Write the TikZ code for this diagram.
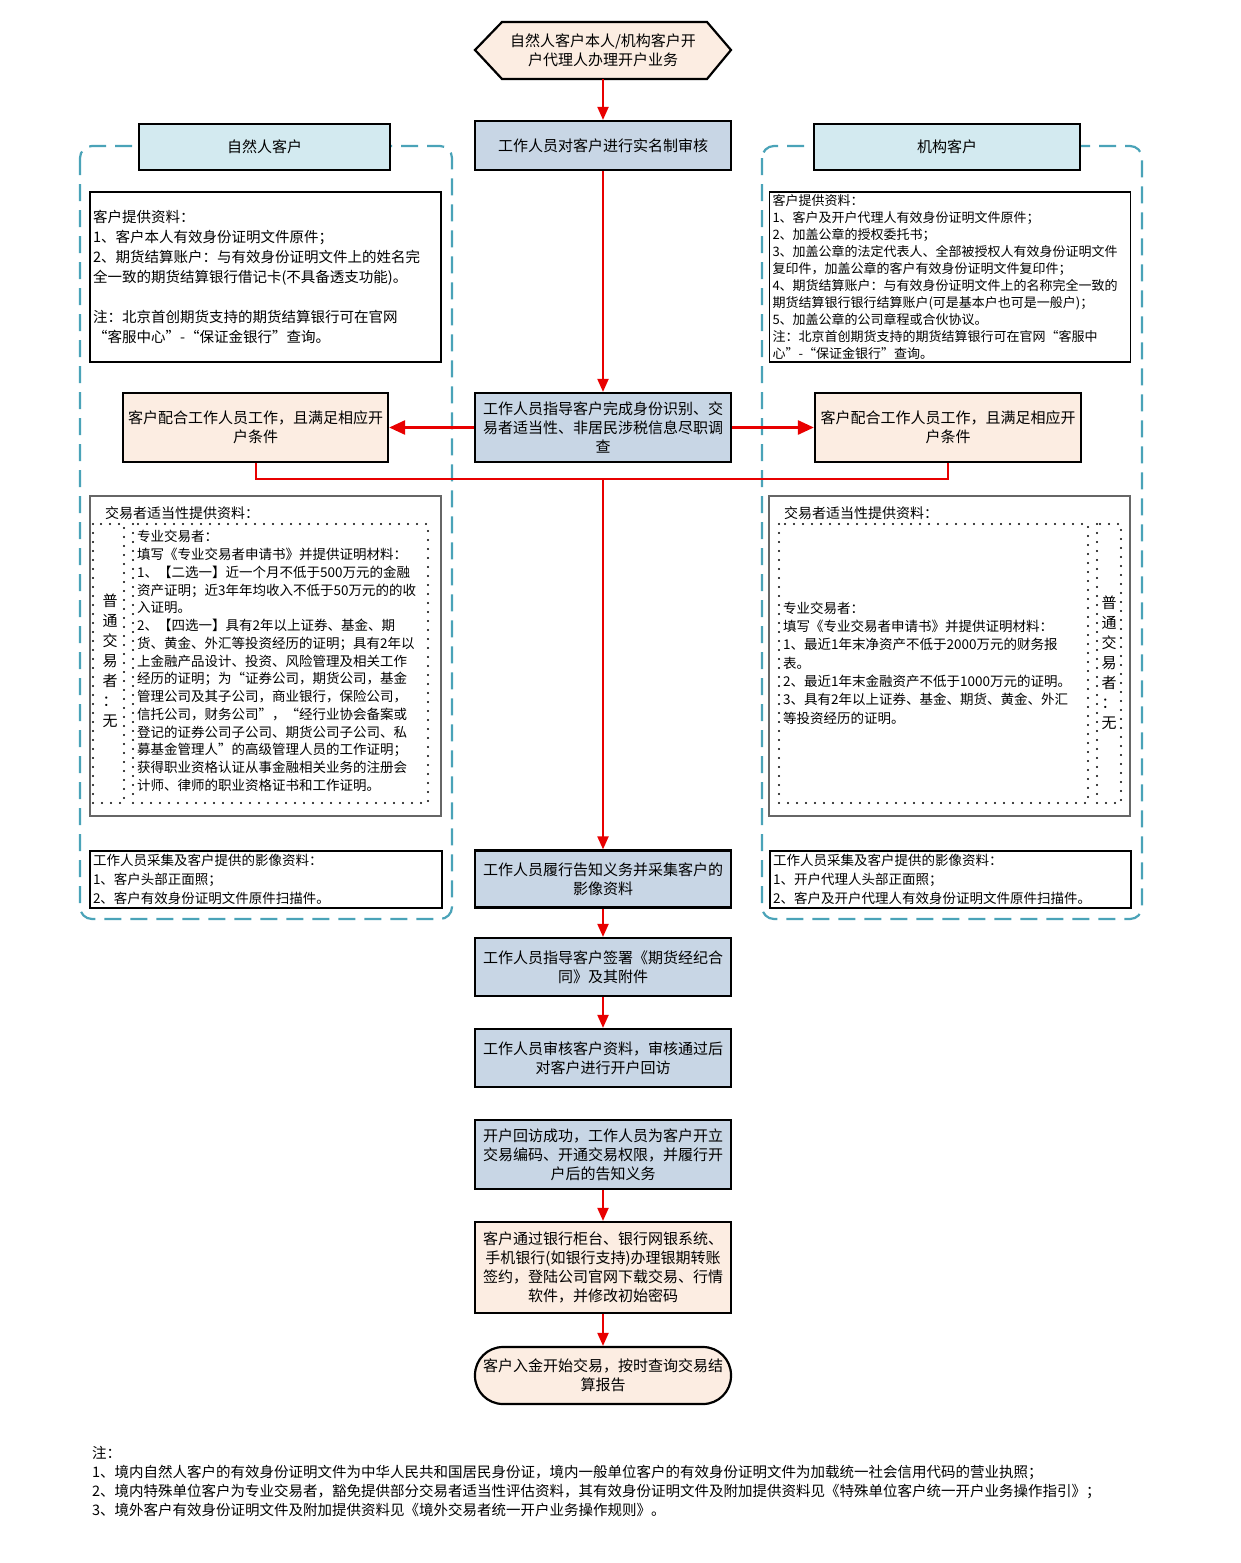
\documentclass[tikz,border=0pt]{standalone}
\usepackage{fontspec}
\setmainfont{Noto Sans CJK SC}
\usetikzlibrary{arrows.meta}
\definecolor{peach}{RGB}{252,237,226}
\definecolor{steel}{RGB}{200,214,229}
\definecolor{cyanbox}{RGB}{211,234,240}
\definecolor{grpteal}{RGB}{74,163,184}
\definecolor{arrred}{RGB}{232,0,0}
\tikzset{
  box/.style={draw=black, line width=2.2pt, inner sep=2pt, align=center, font=\fontsize{15}{19}\selectfont},
  stepbox/.style={box, fill=steel, minimum width=256pt},
  peachbox/.style={box, fill=peach},
  headbox/.style={box, fill=cyanbox, minimum height=46pt},
  infobox/.style={draw=black, line width=1.3pt, fill=white, align=left, inner xsep=3pt, inner ysep=0pt},
  apbox/.style={draw=black!60, line width=1.3pt, fill=white},
  dotbox/.style={draw=black, line width=2.2pt, line cap=round, dash pattern=on 0pt off 9pt},
  grp/.style={draw=grpteal, line width=2.2pt, dash pattern=on 17pt off 9pt, rounded corners=12pt},
  arr/.style={draw=arrred, line width=2pt, -{Triangle[length=13pt,width=11pt]}},
  harr/.style={draw=arrred, line width=2.6pt, -{Triangle[length=16pt,width=14pt]}},
  link/.style={draw=arrred, line width=2pt},
  plain/.style={inner sep=0pt, align=left},
}
\begin{document}
\begin{tikzpicture}[x=1pt,y=-1pt]
\useasboundingbox (0,0) rectangle (1241,1563);
\fill[white] (0,0) rectangle (1241,1563);

% groups
\draw[grp] (80,146) rectangle (452,919);
\draw[grp] (762,146) rectangle (1142,919);

% start hexagon
\draw[line width=2.2pt, fill=peach] (475,50) -- (502,22) -- (707,22) -- (731,50) -- (707,79) -- (502,79) -- cycle;
\node[inner sep=0pt, minimum width=200pt, minimum height=57pt, align=center, font=\fontsize{15}{19}\selectfont] (start) at (603,50.5) {自然人客户本人/机构客户开\\户代理人办理开户业务};

% central column
\node[stepbox, minimum height=49pt] (verify) at (603,145.5) {工作人员对客户进行实名制审核};
\node[stepbox, minimum height=69pt] (guide) at (603,427.5) {工作人员指导客户完成身份识别、交\\易者适当性、非居民涉税信息尽职调\\查};
\node[stepbox, minimum height=57pt] (notice) at (603,879) {工作人员履行告知义务并采集客户的\\影像资料};
\node[stepbox, minimum height=58pt] (sign) at (603,967) {工作人员指导客户签署《期货经纪合\\同》及其附件};
\node[stepbox, minimum height=58pt] (review) at (603,1058) {工作人员审核客户资料，审核通过后\\对客户进行开户回访};
\node[stepbox, minimum height=69pt] (visit) at (603,1154.5) {开户回访成功，工作人员为客户开立\\交易编码、开通交易权限，并履行开\\户后的告知义务};
\node[box, fill=peach, minimum width=256pt, minimum height=91pt] (bank) at (603,1267.5) {客户通过银行柜台、银行网银系统、\\手机银行(如银行支持)办理银期转账\\签约，登陆公司官网下载交易、行情\\软件，并修改初始密码};
\node[box, fill=peach, minimum width=256pt, minimum height=57pt, rounded corners=28pt] (finish) at (603,1375.5) {客户入金开始交易，按时查询交易结\\算报告};

% headers
\node[headbox, minimum width=251pt] (lhead) at (264.5,147) {自然人客户};
\node[headbox, minimum width=266pt] (rhead) at (947,147) {机构客户};

% info boxes
\node[infobox, text width=345pt, minimum height=170pt, font=\fontsize{14.5}{20}\selectfont] (lb1) at (265.5,277) {客户提供资料：\\
1、客户本人有效身份证明文件原件；\\
2、期货结算账户：与有效身份证明文件上的姓名完\\
全一致的期货结算银行借记卡(不具备透支功能)。\\[20pt]
注：北京首创期货支持的期货结算银行可在官网\\
“客服中心”-“保证金银行”查询。};
\node[infobox, text width=355pt, minimum height=170pt, font=\fontsize{13}{16.9}\selectfont] (rb1) at (950,277) {客户提供资料：\\
1、客户及开户代理人有效身份证明文件原件；\\
2、加盖公章的授权委托书；\\
3、加盖公章的法定代表人、全部被授权人有效身份证明文件\\
复印件，加盖公章的客户有效身份证明文件复印件；\\
4、期货结算账户：与有效身份证明文件上的名称完全一致的\\
期货结算银行银行结算账户(可是基本户也可是一般户)；\\
5、加盖公章的公司章程或合伙协议。\\
注：北京首创期货支持的期货结算银行可在官网“客服中\\
心”-“保证金银行”查询。};

% orange condition boxes
\node[peachbox, minimum width=265pt, minimum height=69pt] (lo) at (255.5,427.5) {客户配合工作人员工作，且满足相应开\\户条件};
\node[peachbox, minimum width=266pt, minimum height=69pt] (ro) at (948,427.5) {客户配合工作人员工作，且满足相应开\\户条件};

% appropriateness boxes
\node[apbox, minimum width=351pt, minimum height=320pt] (la) at (265.5,656) {};
\node[plain, anchor=west, font=\fontsize{14}{18}\selectfont] (lat) at (105,513) {交易者适当性提供资料：};
\draw[dotbox] (93,524) rectangle (124,803);
\draw[dotbox] (133,524) rectangle (428,803);
\node[plain, align=center, font=\fontsize{15}{20}\selectfont] (lav) at (110,661) {普\\通\\交\\易\\者\\：\\无};
\node[plain, anchor=west, font=\fontsize{13.5}{17.75}\selectfont] (lap) at (137,661) {专业交易者：\\
填写《专业交易者申请书》并提供证明材料：\\
1、【二选一】近一个月不低于500万元的金融\\
资产证明；近3年年均收入不低于50万元的的收\\
入证明。\\
2、【四选一】具有2年以上证券、基金、期\\
货、黄金、外汇等投资经历的证明；具有2年以\\
上金融产品设计、投资、风险管理及相关工作\\
经历的证明；为“证券公司，期货公司，基金\\
管理公司及其子公司，商业银行，保险公司，\\
信托公司，财务公司”，“经行业协会备案或\\
登记的证券公司子公司、期货公司子公司、私\\
募基金管理人”的高级管理人员的工作证明；\\
获得职业资格认证从事金融相关业务的注册会\\
计师、律师的职业资格证书和工作证明。};

\node[apbox, minimum width=361pt, minimum height=320pt] (ra) at (949.5,656) {};
\node[plain, anchor=west, font=\fontsize{14}{18}\selectfont] (rat) at (784,513) {交易者适当性提供资料：};
\draw[dotbox] (779,524) rectangle (1088,803);
\draw[dotbox] (1097,524) rectangle (1121,803);
\node[plain, align=center, font=\fontsize{15}{20}\selectfont] (rav) at (1109,663) {普\\通\\交\\易\\者\\：\\无};
\node[plain, anchor=west, font=\fontsize{13.5}{18.3}\selectfont] (rap) at (783,663) {专业交易者：\\
填写《专业交易者申请书》并提供证明材料：\\
1、最近1年末净资产不低于2000万元的财务报\\
表。\\
2、最近1年末金融资产不低于1000万元的证明。\\
3、具有2年以上证券、基金、期货、黄金、外汇\\
等投资经历的证明。};

% image boxes
\node[infobox, text width=346pt, minimum height=57pt, font=\fontsize{13.5}{19}\selectfont] (li) at (266,879.5) {工作人员采集及客户提供的影像资料：\\
1、客户头部正面照；\\
2、客户有效身份证明文件原件扫描件。};
\node[infobox, text width=355pt, minimum height=57pt, font=\fontsize{13.5}{19}\selectfont] (ri) at (950.5,879.5) {工作人员采集及客户提供的影像资料：\\
1、开户代理人头部正面照；\\
2、客户及开户代理人有效身份证明文件原件扫描件。};

% connectors
\coordinate (merge) at (603,479);
\draw[arr] (start.south) -- (verify.north);
\draw[arr] (verify.south) -- (guide.north);
\draw[harr] (guide.west) -- (lo.east);
\draw[harr] (guide.east) -- (ro.west);
\draw[link] (lo.south) |- (merge) -| (ro.south);
\draw[arr] (merge) -- (notice.north);
\draw[arr] (notice.south) -- (sign.north);
\draw[arr] (sign.south) -- (review.north);
\draw[arr] (visit.south) -- (bank.north);
\draw[arr] (bank.south) -- (finish.north);

% notes
\node[plain, anchor=north west, font=\fontsize{14.5}{19}\selectfont] (notes) at (92,1446) {注：\\
1、境内自然人客户的有效身份证明文件为中华人民共和国居民身份证，境内一般单位客户的有效身份证明文件为加载统一社会信用代码的营业执照；\\
2、境内特殊单位客户为专业交易者，豁免提供部分交易者适当性评估资料，其有效身份证明文件及附加提供资料见《特殊单位客户统一开户业务操作指引》；\\
3、境外客户有效身份证明文件及附加提供资料见《境外交易者统一开户业务操作规则》。};
\end{tikzpicture}
\end{document}
